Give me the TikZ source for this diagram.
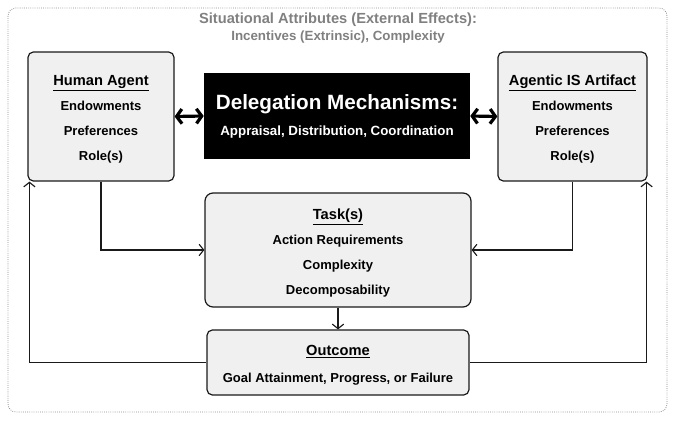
\documentclass[tikz,border=0pt]{standalone}
\usepackage{fontspec}
\setmainfont{Liberation Sans}
\usetikzlibrary{arrows.meta}
\definecolor{boxfill}{HTML}{F0F0F0}
\definecolor{edge}{HTML}{1A1A1A}
\definecolor{muted}{HTML}{808080}
\definecolor{frame}{HTML}{8C8C8C}
\newcommand{\toplift}{\rule{0pt}{12pt}}
\begin{document}
\begin{tikzpicture}[x=0.75pt,y=-0.75pt,
  card/.style={draw=edge, line width=0.9pt, fill=boxfill, rounded corners=4pt,
    inner sep=0pt, align=center, font=\fontsize{9.75}{18.75}\selectfont\bfseries},
  flow/.style={draw=edge, line width=0.85pt, -{Straight Barb[length=3.4pt,width=8.5pt]}},
  link/.style={draw=black, line width=2.4pt,
    {Straight Barb[length=4pt,width=11pt]}-{Straight Barb[length=4pt,width=11pt]}},
]
\useasboundingbox (0,0) rectangle (676,424);

% outer frame for the situational attributes
\draw[frame, densely dotted, line width=0.6pt, rounded corners=6pt] (8,8) rectangle (667,412);
\node[text=muted, font=\fontsize{11}{13}\selectfont\bfseries] (situ) at (338,20)
  {Situational Attributes (External Effects):};
\node[text=muted, font=\fontsize{10}{12}\selectfont\bfseries] (situsub) at (338,37)
  {Incentives (Extrinsic), Complexity};

% agents
\node[card, minimum width=109.5pt, minimum height=96.75pt] (human) at (101,116.5)
  {{\fontsize{11}{18.75}\selectfont\toplift\underline{Human Agent}}\\Endowments\\Preferences\\Role(s)};
\node[card, minimum width=111.75pt, minimum height=96.75pt] (agentic) at (572.5,116.5)
  {{\fontsize{11}{18.75}\selectfont\toplift\underline{Agentic IS Artifact}}\\Endowments\\Preferences\\Role(s)};

% delegation mechanisms
\node[fill=black, text=white, inner sep=0pt, align=center,
  minimum width=199.5pt, minimum height=64.5pt,
  font=\fontsize{10}{19.5}\selectfont\bfseries] (deleg) at (337,116)
  {{\fontsize{15.5}{19.5}\selectfont Delegation Mechanisms:}\\Appraisal, Distribution, Coordination};

% task and outcome
\node[card, rounded corners=6pt, minimum width=199.5pt, minimum height=85.5pt] (task) at (338,250)
  {{\fontsize{11}{18.75}\selectfont\toplift\underline{Task(s)}}\\Action Requirements\\Complexity\\Decomposability};
\node[card, minimum width=196.5pt, minimum height=48.75pt] (outcome) at (338,362.5)
  {{\fontsize{11}{18.75}\selectfont\toplift\underline{Outcome}}\\[1.5pt]Goal Attainment, Progress, or Failure};

% connectors
\draw[link] (human.east) -- (deleg.west);
\draw[link] (deleg.east) -- (agentic.west);
\draw[flow] (human.south) |- (task.west);
\draw[flow] (agentic.south) |- (task.east);
\draw[flow] (task.south) -- (outcome.north);
\coordinate (humanfoot) at ([xshift=1.5pt]human.south west);
\coordinate (agenticfoot) at ([xshift=-0.75pt]agentic.south east);
\draw[flow] (outcome.west) -| (humanfoot);
\draw[flow] (outcome.east) -| (agenticfoot);
\end{tikzpicture}
\end{document}
